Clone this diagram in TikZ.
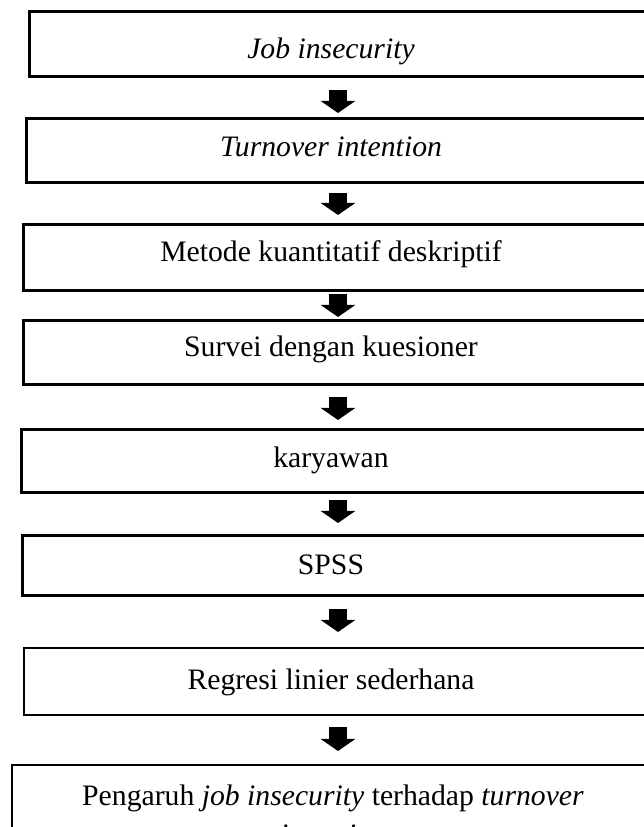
\documentclass[tikz,border=0pt]{standalone}
\usepackage{fontspec}
\setmainfont{Liberation Serif}
\usepackage{tikz}
\usetikzlibrary{arrows.meta, positioning}

\begin{document}
\begin{tikzpicture}[x=1pt, y=1pt,
    box/.style={draw, line width=3pt, inner sep=0pt, anchor=north west},
    thinbox/.style={box, line width=2.4pt},
    txt/.style={anchor=base, inner sep=0pt, align=center, font=\fontsize{29.7}{39}\selectfont},
    flow/.style={line width=18pt, -{Triangle[width=34pt, length=12pt]}}]
    \useasboundingbox (0,0) rectangle (644,827);
    \clip (0,0) rectangle (644,827);

    % Boxes (right side runs off the page)
    \node[box, minimum width=642pt, minimum height=65pt] (jobins) at (28,817) {};
    \node[box, minimum width=645pt, minimum height=64pt] (turnover) at (25,710) {};
    \node[box, minimum width=648pt, minimum height=66pt] (metode) at (22,604) {};
    \node[box, minimum width=648pt, minimum height=64pt] (survei) at (22,508) {};
    \node[box, minimum width=650pt, minimum height=63pt] (karyawan) at (20,399) {};
    \node[box, minimum width=649pt, minimum height=60pt] (spss) at (21,293) {};
    \node[thinbox, minimum width=647pt, minimum height=67pt] (regresi) at (23,180) {};
    \node[thinbox, minimum width=659pt, minimum height=120pt] (pengaruh) at (11,63) {};

    % Texts
    \node[txt] (t-jobins) at (331,768) {\textit{Job insecurity}};
    \node[txt] (t-turnover) at (331,670) {\textit{Turnover intention}};
    \node[txt] (t-metode) at (331,565) {Metode kuantitatif deskriptif};
    \node[txt] (t-survei) at (331,470) {Survei dengan kuesioner};
    \node[txt] (t-karyawan) at (331,359) {karyawan};
    \node[txt] (t-spss) at (331,252) {SPSS};
    \node[txt] (t-regresi) at (331,137) {Regresi linier sederhana};
    \node[txt] (t-pengaruh) at (333,-17) {Pengaruh \textit{job insecurity} terhadap \textit{turnover}\\ \textit{intention}};

    % Arrows
    \coordinate (ax) at (338,0);
    \draw[flow, shorten <=12pt, shorten >=4pt] (jobins.south -| ax) -- (turnover.north -| ax);
    \draw[flow, shorten <=9pt, shorten >=8pt] (turnover.south -| ax) -- (metode.north -| ax);
    \draw[flow, shorten <=2pt, shorten >=2pt] (metode.south -| ax) -- (survei.north -| ax);
    \draw[flow, shorten <=11pt, shorten >=8pt] (survei.south -| ax) -- (karyawan.north -| ax);
    \draw[flow, shorten <=6pt, shorten >=11pt] (karyawan.south -| ax) -- (spss.north -| ax);
    \draw[flow, shorten <=12pt, shorten >=15pt] (spss.south -| ax) -- (regresi.north -| ax);
    \draw[flow, shorten <=11pt, shorten >=13pt] (regresi.south -| ax) -- (pengaruh.north -| ax);
\end{tikzpicture}
\end{document}
